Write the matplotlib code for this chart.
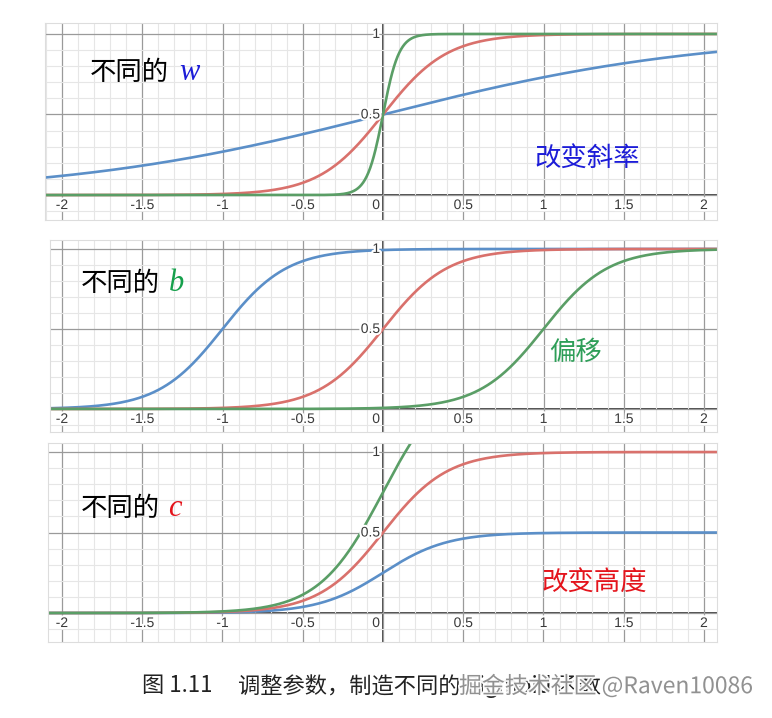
import numpy as np
import matplotlib
matplotlib.use("Agg")
import matplotlib.pyplot as plt
from matplotlib import transforms
import matplotlib.patheffects as pe

# ---------------- data ----------------
x_tick_values = [-2, -1.5, -1, -0.5, 0.5, 1, 1.5, 2]
x_tick_labels = ["-2", "-1.5", "-1", "-0.5", "0.5", "1", "1.5", "2"]
y_tick_values = [0.5, 1]
y_tick_labels = ["0.5", "1"]

# panel 1: sigmoid(w*x)
w_values = [1, 5, 20]
# panel 2: sigmoid(5*x + b)
b_weight = 5
b_values = [5, 0, -5]
# panel 3: c * sigmoid(5*x)
c_weight = 5
c_values = [0.5, 1, 1.5]

series_colors = ["#5b8fc8", "#d9716c", "#5a9e66"]

panel_titles = ["不同的", "不同的", "不同的"]
panel_symbols = ["w", "b", "c"]
symbol_colors = ["#1c1cd8", "#16a04c", "#e4141c"]
panel_notes = ["改变斜率", "偏移", "改变高度"]
note_colors = ["#1c1cd8", "#2e9e58", "#e4141c"]

caption_num = "图 1.11"
caption_text = "调整参数，制造不同的 Sigmoid 函数"
watermark = "掘金技术社区 @Raven10086"

# ---------------- figure ----------------
W, H = 772, 718
fig = plt.figure(figsize=(W / 100, H / 100), dpi=100)
fig.patch.set_facecolor("white")


def px_axes(l, t, r, b):
    return fig.add_axes([l / W, 1 - b / H, (r - l) / W, (b - t) / H])


def sigmoid(z):
    return 1.0 / (1.0 + np.exp(-z))


CJK = ["Noto Sans CJK SC", "DejaVu Sans"]
halo = [pe.withStroke(linewidth=3, foreground="white")]


def setup(ax, xlim, ylim):
    ax.set_xticks(np.arange(-2, 2.01, 0.5))
    ax.set_xticks(np.arange(-2.1, 2.11, 0.1), minor=True)
    ax.set_yticks(np.arange(-0.5, 1.01, 0.5))
    ax.set_yticks(np.arange(-0.2, 1.11, 0.1), minor=True)
    ax.set_xlim(*xlim)
    ax.set_ylim(*ylim)
    ax.grid(which="minor", color="#e6e6e6", linewidth=0.8, zorder=0)
    ax.grid(which="major", color="#9a9a9a", linewidth=0.9, zorder=0.5)
    ax.tick_params(which="both", length=0, labelbottom=False, labelleft=False)
    for s in ax.spines.values():
        s.set_color("#dddddd")
        s.set_linewidth(0.8)
    ax.axhline(0, color="#4a4a4a", linewidth=1.4, zorder=1)
    ax.axvline(0, color="#4a4a4a", linewidth=1.4, zorder=1)
    tr_x = transforms.offset_copy(ax.transData, fig=fig, x=0, y=-3, units="dots")
    for v, lab in zip(x_tick_values, x_tick_labels):
        ax.text(v, 0, lab, transform=tr_x, ha="center", va="top", fontsize=10,
                family="Liberation Sans", color="#3a3a3a", path_effects=halo, zorder=3)
    tr_0 = transforms.offset_copy(ax.transData, fig=fig, x=-3, y=-3, units="dots")
    ax.text(0, 0, "0", transform=tr_0, ha="right", va="top", fontsize=10,
            family="Liberation Sans", color="#3a3a3a", path_effects=halo, zorder=3)
    tr_y = transforms.offset_copy(ax.transData, fig=fig, x=-3, y=0, units="dots")
    for v, lab in zip(y_tick_values, y_tick_labels):
        ax.text(0, v, lab, transform=tr_y, ha="right", va="center", fontsize=10,
                family="Liberation Sans", color="#3a3a3a", path_effects=halo, zorder=3)


# panel geometry (pixels) and limits
ax1 = px_axes(45, 23, 717, 220)
setup(ax1, (-2.106, 2.081), (-0.155, 1.068))
ax2 = px_axes(50, 240, 717, 432)
setup(ax2, (-2.075, 2.081), (-0.144, 1.056))
ax3 = px_axes(48, 443, 717, 642)
setup(ax3, (-2.087, 2.081), (-0.180, 1.056))

lw = 1.9
x1 = np.linspace(-2.2, 2.2, 800)
for w, col in zip(w_values, series_colors):
    ax1.plot(x1, sigmoid(w * x1), color=col, linewidth=lw, zorder=2)
for b, col in zip(b_values, series_colors):
    ax2.plot(x1, sigmoid(b_weight * x1 + b), color=col, linewidth=lw, zorder=2)
for c, col in zip(c_values, series_colors):
    ax3.plot(x1, c * sigmoid(c_weight * x1), color=col, linewidth=lw, zorder=2)

# annotations
title_pos = [(90, 73), (81, 283), (81, 509)]
sym_pos = [(179, 73), (169, 283), (168, 509)]
note_pos = [(587, 158), (576, 352), (594, 582)]
for i in range(3):
    tx, ty = title_pos[i]
    fig.text(tx / W, 1 - ty / H, panel_titles[i], family=CJK, fontsize=19,
             ha="left", va="center", color="black")
    sx, sy = sym_pos[i]
    fig.text(sx / W, 1 - sy / H, panel_symbols[i], family="Liberation Serif",
             style="italic", fontsize=22, ha="left", va="center",
             color=symbol_colors[i])
    nx, ny = note_pos[i]
    fig.text(nx / W, 1 - ny / H, panel_notes[i], family=CJK, fontsize=19,
             ha="center", va="center", color=note_colors[i])

fig.text(142 / W, 1 - 686 / H, caption_num, family=CJK, fontsize=16,
         ha="left", va="center", color="#222222")
fig.text(238 / W, 1 - 686 / H, caption_text, family=CJK, fontsize=16,
         ha="left", va="center", color="#222222")
fig.text(753 / W, 1 - 686 / H, watermark, family=CJK, fontsize=16.5,
         ha="right", va="center", color="#8c8c8c", alpha=0.95,
         path_effects=[pe.withStroke(linewidth=2.5, foreground="white")])

fig.savefig("out.png", dpi=100, facecolor="white")
